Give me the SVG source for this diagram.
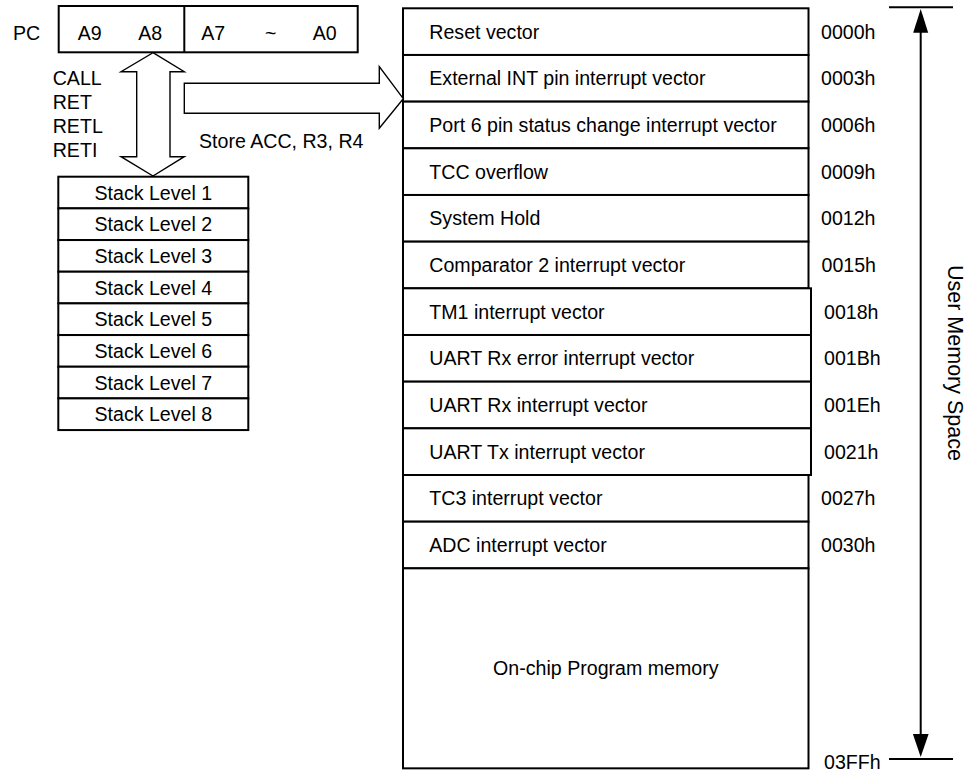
<svg xmlns="http://www.w3.org/2000/svg" width="966" height="773" viewBox="0 0 966 773">
<style>
text{font-family:"Liberation Sans",Arial,sans-serif;font-size:19.6px;fill:#000}
.box{fill:#fff;stroke:#000;stroke-width:2}
.ln{fill:none;stroke:#000;stroke-width:2}
.arw{fill:#fff;stroke:#000;stroke-width:1.4;stroke-linejoin:miter}
.mid{text-anchor:middle}
</style>
<rect width="966" height="773" fill="#fff"/>

<g id="pc">
<text x="13" y="39.5">PC</text>
<rect class="box" x="58.7" y="6" width="299" height="46.3"/>
<line class="ln" x1="184.3" y1="6" x2="184.3" y2="52.3"/>
<text x="77.7" y="39.5">A9</text>
<text x="138.3" y="39.5">A8</text>
<text x="201.3" y="39.5">A7</text>
<text x="265" y="39.5">~</text>
<text x="312.7" y="39.5">A0</text>
</g>

<g id="ops">
<text x="52.7" y="85">CALL</text>
<text x="52.7" y="109">RET</text>
<text x="52.7" y="133">RETL</text>
<text x="52.7" y="157">RETI</text>
</g>

<g id="store-label">
<text x="199" y="148">Store ACC, R3, R4</text>
</g>

<g id="stack">
<rect class="box" x="58.3" y="176.7" width="190" height="31.67"/>
<rect class="box" x="58.3" y="208.37" width="190" height="31.67"/>
<rect class="box" x="58.3" y="240.04" width="190" height="31.67"/>
<rect class="box" x="58.3" y="271.71" width="190" height="31.67"/>
<rect class="box" x="58.3" y="303.38" width="190" height="31.67"/>
<rect class="box" x="58.3" y="335.05" width="190" height="31.67"/>
<rect class="box" x="58.3" y="366.72" width="190" height="31.67"/>
<rect class="box" x="58.3" y="398.39" width="190" height="31.67"/>
<text class="mid" x="153.3" y="199.5">Stack Level 1</text>
<text class="mid" x="153.3" y="231.2">Stack Level 2</text>
<text class="mid" x="153.3" y="262.9">Stack Level 3</text>
<text class="mid" x="153.3" y="294.5">Stack Level 4</text>
<text class="mid" x="153.3" y="326.2">Stack Level 5</text>
<text class="mid" x="153.3" y="357.9">Stack Level 6</text>
<text class="mid" x="153.3" y="389.6">Stack Level 7</text>
<text class="mid" x="153.3" y="421.2">Stack Level 8</text>
</g>

<g id="memory">
<g id="m0"><rect class="box" x="403" y="8.3" width="405.5" height="46.67"/><text x="429.3" y="38.6">Reset vector</text><text x="821" y="38.6">0000h</text></g>
<g id="m1"><rect class="box" x="403" y="54.97" width="405.5" height="46.67"/><text x="429.3" y="85.3">External INT pin interrupt vector</text><text x="821" y="85.3">0003h</text></g>
<g id="m2"><rect class="box" x="403" y="101.64" width="405.5" height="46.67"/><text x="429.3" y="132">Port 6 pin status change interrupt vector</text><text x="821" y="132">0006h</text></g>
<g id="m3"><rect class="box" x="403" y="148.31" width="405.5" height="46.67"/><text x="429.3" y="178.6">TCC overflow</text><text x="821" y="178.6">0009h</text></g>
<g id="m4"><rect class="box" x="403" y="194.98" width="405.5" height="46.67"/><text x="429.3" y="225.3">System Hold</text><text x="821" y="225.3">0012h</text></g>
<g id="m5"><rect class="box" x="403" y="241.65" width="405.5" height="46.67"/><text x="429.3" y="272">Comparator 2 interrupt vector</text><text x="821.5" y="272">0015h</text></g>
<g id="m6"><rect class="box" x="403" y="288.32" width="408" height="46.67"/><text x="429.3" y="318.6">TM1 interrupt vector</text><text x="824" y="318.6">0018h</text></g>
<g id="m7"><rect class="box" x="403" y="334.99" width="408" height="46.67"/><text x="429.3" y="365.3">UART Rx error interrupt vector</text><text x="824" y="365.3">001Bh</text></g>
<g id="m8"><rect class="box" x="403" y="381.66" width="408" height="46.67"/><text x="429.3" y="412">UART Rx interrupt vector</text><text x="824" y="412">001Eh</text></g>
<g id="m9"><rect class="box" x="403" y="428.33" width="408" height="46.67"/><text x="429.3" y="458.6">UART Tx interrupt vector</text><text x="824" y="458.6">0021h</text></g>
<g id="m10"><rect class="box" x="403" y="475" width="405.5" height="46.67"/><text x="429.3" y="505.3">TC3 interrupt vector</text><text x="821" y="505.3">0027h</text></g>
<g id="m11"><rect class="box" x="403" y="521.67" width="405.5" height="46.67"/><text x="429.3" y="552">ADC interrupt vector</text><text x="821" y="552">0030h</text></g>
<g id="m12"><rect class="box" x="403" y="568.34" width="405.5" height="200"/><text class="mid" x="605.8" y="675.3">On-chip Program memory</text></g>
<text x="824" y="768.5">03FFh</text>
</g>

<g id="range-label">
<text transform="translate(943,265) rotate(90)" x="0" y="-5" style="font-size:21.5px">User Memory Space</text>
</g>

<g id="connectors">
<polygon class="arw" points="153,52.7 184.3,71.7 170,71.7 170,156.7 184.3,156.7 153,176 121,156.7 136.7,156.7 136.7,71.7 121,71.7"/>
<polygon class="arw" points="184.3,83.3 379.3,83.3 379.3,66.7 403.3,98.7 379.3,128.3 379.3,113.3 184.3,113.3"/>
<g id="range">
<line class="ln" x1="889" y1="7.3" x2="953" y2="7.3"/>
<line class="ln" x1="889" y1="759" x2="953" y2="759"/>
<line class="ln" x1="920.7" y1="30" x2="920.7" y2="736"/>
<polygon points="920.7,9 913.2,32.7 928.2,32.7" fill="#000"/>
<polygon points="920.7,757 912.9,734 928.6,734" fill="#000"/>
</g>
</g>
</svg>
